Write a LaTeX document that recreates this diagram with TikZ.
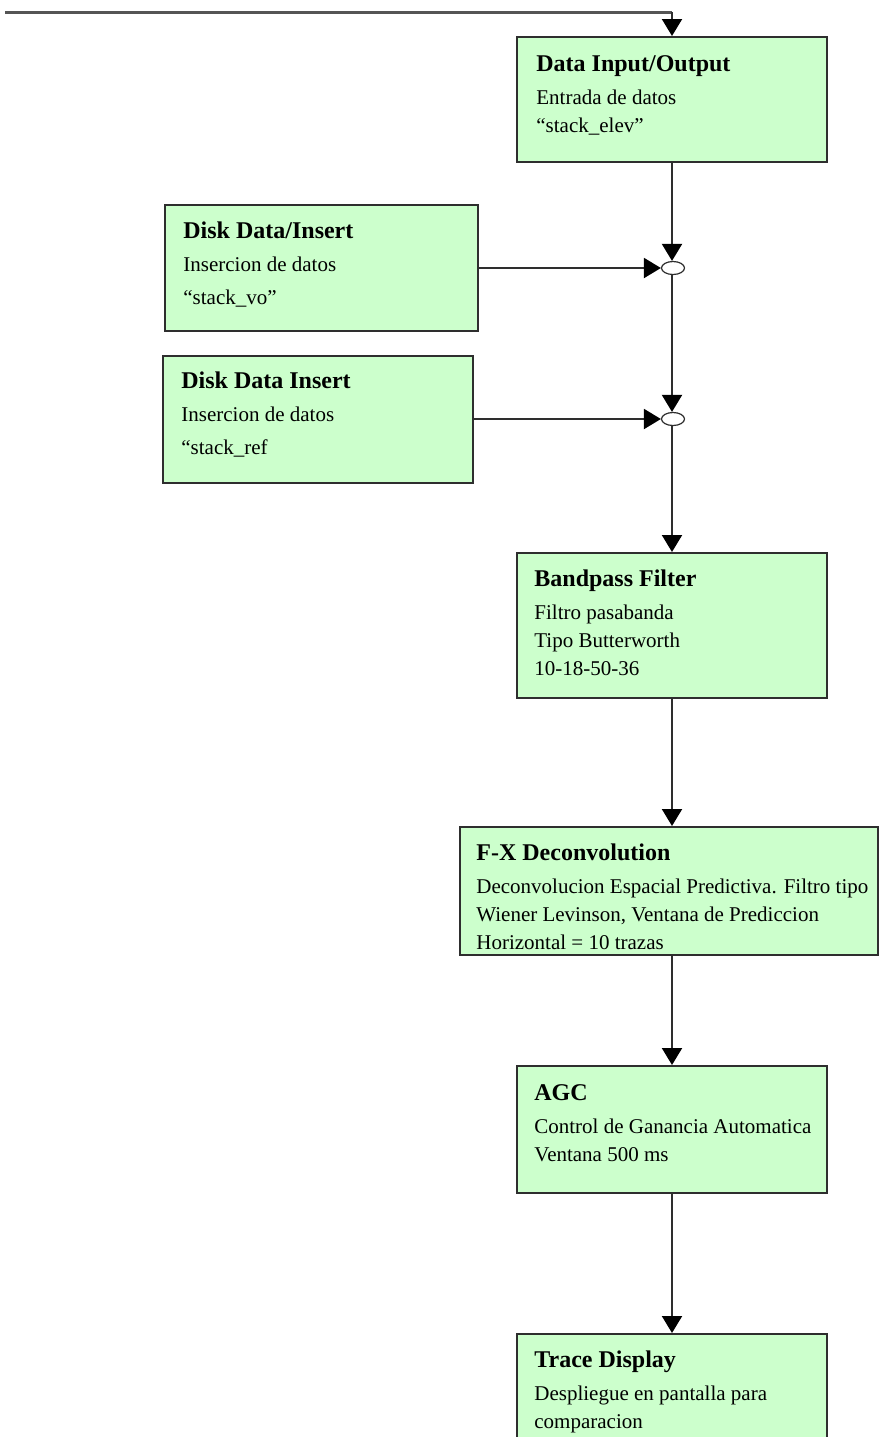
\documentclass[tikz,border=0pt]{standalone}
\usepackage{fontspec}
\setmainfont{Liberation Serif}
\usetikzlibrary{arrows.meta,positioning,shapes.geometric}
\definecolor{flowgreen}{HTML}{CCFFCC}
\definecolor{flowedge}{HTML}{2E2E2E}
\definecolor{feedgray}{HTML}{555555}
\newcommand{\flowtitle}[1]{{\fontsize{12}{14}\selectfont\bfseries #1}}

\begin{document}
\begin{tikzpicture}[
  x=0.5pt, y=-0.5pt,
  block/.style={draw=flowedge, line width=1pt, fill=flowgreen, inner sep=0pt,
                minimum width=155pt},
  blocktext/.style={anchor=north west, inner sep=0pt, align=left,
                    font=\fontsize{10.5}{14}\selectfont},
  disktext/.style={blocktext, font=\fontsize{10.5}{16.5}\selectfont},
  flow/.style={-{Triangle[length=8.5pt,width=10pt,color=black]}, line width=1pt,
               draw=flowedge},
  feed/.style={line width=1.5pt, draw=feedgray},
  merge/.style={ellipse, draw=flowedge, line width=0.6pt, fill=white,
                minimum width=11.5pt, minimum height=6.5pt, inner sep=0pt},
]
  \useasboundingbox (0,0) rectangle (879,1437);
  \clip (0,0) rectangle (879,1437);

  % boxes
  \node[block, minimum height=62.5pt] (dio) at (672,99.5) {};
  \node[block, minimum width=156.5pt, minimum height=63pt] (ddv) at (321.5,268) {};
  \node[block, minimum height=63.5pt] (ddr) at (318,419) {};
  \node[block, minimum height=72.5pt] (bpf) at (672,625.5) {};
  \node[block, minimum width=209pt, minimum height=64pt] (fxd) at (669,891) {};
  \node[block, minimum height=63.5pt] (agc) at (672,1129.5) {};
  \node[block, minimum height=63.5pt] (trd) at (672,1397.5) {};

  % junctions
  \node[merge] (jvo) at (673,268) {};
  \node[merge] (jref) at (673,419) {};

  % texts
  \node[blocktext] (dio-t) at ([xshift=10pt,yshift=-9.5pt]dio.north west)
    {\flowtitle{Data Input/Output}\\[2.5pt] Entrada de datos\\ “stack\_elev”};
  \node[disktext] (ddv-t) at ([xshift=9.5pt,yshift=-8.5pt]ddv.north west)
    {\flowtitle{Disk Data/Insert}\\[0pt] Insercion de datos\\ “stack\_vo”};
  \node[disktext] (ddr-t) at ([xshift=9.5pt,yshift=-8.5pt]ddr.north west)
    {\flowtitle{Disk Data Insert}\\[0pt] Insercion de datos\\ “stack\_ref};
  \node[blocktext] (bpf-t) at ([xshift=9pt,yshift=-8.5pt]bpf.north west)
    {\flowtitle{Bandpass Filter}\\[2.5pt] Filtro pasabanda\\ Tipo Butterworth\\ 10-18-50-36};
  \node[blocktext] (fxd-t) at ([xshift=8.5pt,yshift=-8.5pt]fxd.north west)
    {\flowtitle{F-X Deconvolution}\\[2.5pt] Deconvolucion Espacial Predictiva. Filtro tipo\\
     Wiener Levinson, Ventana de Prediccion\\ Horizontal = 10 trazas};
  \node[blocktext] (agc-t) at ([xshift=9pt,yshift=-9.5pt]agc.north west)
    {\flowtitle{AGC}\\[2.5pt] Control de Ganancia Automatica\\ Ventana 500 ms};
  \node[blocktext] (trd-t) at ([xshift=9pt,yshift=-8.5pt]trd.north west)
    {\flowtitle{Trace Display}\\[2.5pt] Despliegue en pantalla para\\ comparacion};

  % connectors
  \coordinate (feedin) at (5,12);
  \draw[feed] (feedin) -- (feedin -| dio.north);
  \draw[flow] (feedin -| dio.north) -- (dio.north);
  \draw[flow] (dio.south) -- (dio.south |- jvo.north);
  \draw[flow] (ddv) -- (jvo);
  \draw[flow] (jvo.south -| dio.south) -- (dio.south |- jref.north);
  \draw[flow] (ddr) -- (jref);
  \draw[flow] (jref.south -| bpf.north) -- (bpf.north);
  \draw[flow] (bpf.south) -- (bpf.south |- fxd.north);
  \draw[flow] (agc.north |- fxd.south) -- (agc.north);
  \draw[flow] (agc) -- (trd);
\end{tikzpicture}
\end{document}
